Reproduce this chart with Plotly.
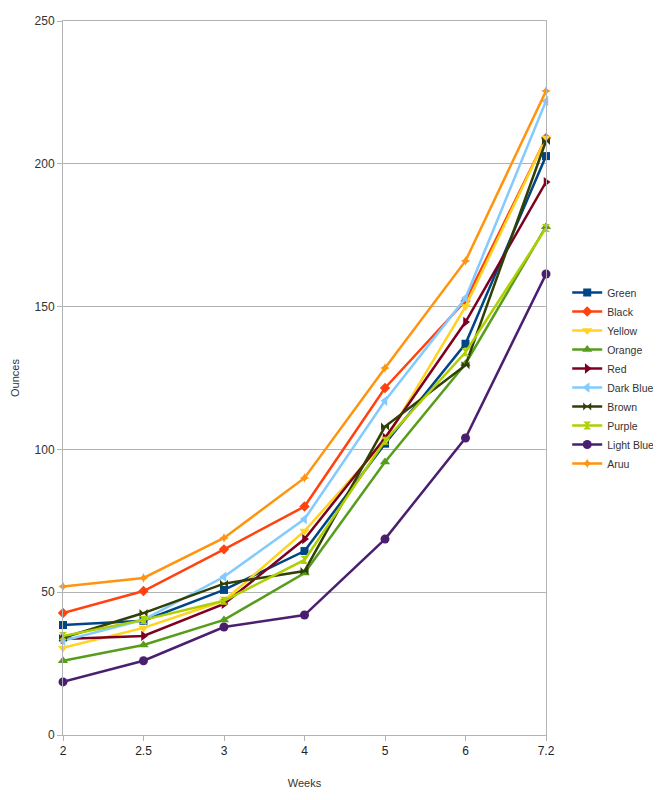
import plotly.graph_objects as go

weeks = ["2", "2.5", "3", "4", "5", "6", "7.2"]

green = [38.5, 40, 50.8, 64.4, 102, 137, 202.7]
black = [42.7, 50.4, 65, 80, 121.5, 152, 209]
yellow = [30.5, 37.5, 47, 71.4, 103, 150, 209]
orange = [26, 31.5, 40.3, 56.7, 95.6, 130, 178]
red = [33.6, 34.7, 45.9, 68.6, 104, 144.6, 193.6]
dark_blue = [33, 40.3, 55.4, 75.6, 117, 153, 222]
brown = [34, 42.7, 53, 57.4, 108, 129.5, 208]
purple = [34.7, 40.3, 47, 61.3, 103, 134, 177.5]
light_blue = [18.6, 26, 37.8, 42, 68.6, 104, 161.4]
aruu = [52, 55, 69, 90, 128.5, 166, 225.5]

series = [
    ("Green", green, "#004586", "square", 8),
    ("Black", black, "#ff420e", "diamond", 8),
    ("Yellow", yellow, "#ffd320", "triangle-down", 9),
    ("Orange", orange, "#579d1c", "triangle-up", 9),
    ("Red", red, "#7e0021", "triangle-right", 9),
    ("Dark Blue", dark_blue, "#83caff", "triangle-left", 9),
    ("Brown", brown, "#314004", "bowtie", 8),
    ("Purple", purple, "#aecf00", "hourglass", 8),
    ("Light Blue", light_blue, "#4b1f6f", "circle", 9),
    ("Aruu", aruu, "#ff950e", "star-diamond", 7),
]

fig = go.Figure()
for name, vals, color, sym, sz in series:
    fig.add_trace(go.Scatter(
        x=weeks, y=vals, name=name, mode="lines+markers",
        line=dict(color=color, width=2.5),
        marker=dict(symbol=sym, size=sz, color=color),
        cliponaxis=False,
    ))

fig.update_layout(
    width=661, height=800,
    margin=dict(l=55, r=123, t=13, b=73, autoexpand=False),
    paper_bgcolor="white", plot_bgcolor="white",
    font=dict(family="Liberation Sans, Arial, sans-serif", size=11, color="#333333"),
    showlegend=True,
    legend=dict(x=0.846, xanchor="left", xref="container", y=0.5, yanchor="middle",
                font=dict(size=10.5, color="#333333"), tracegroupgap=0,
                itemwidth=30, bgcolor="rgba(0,0,0,0)"),
    xaxis=dict(type="category", range=[0, 6], showgrid=False, automargin=False,
               showline=True, linecolor="#b3b3b3", linewidth=1, mirror=True,
               ticks="outside", ticklen=5, tickcolor="#b3b3b3",
               tickfont=dict(size=12, color="#222222"),
               title=dict(text="Weeks", font=dict(size=11, color="#333333"), standoff=21),
               zeroline=False),
    yaxis=dict(range=[0, 250], dtick=50, showgrid=True, gridcolor="#b3b3b3", automargin=False,
               showline=True, linecolor="#b3b3b3", linewidth=1, mirror=True,
               ticks="outside", ticklen=5, tickcolor="#b3b3b3",
               tickfont=dict(size=12, color="#333333"),
               title=dict(text="Ounces", font=dict(size=11, color="#333333"), standoff=12),
               zeroline=False),
)

fig.write_html("out.html")
